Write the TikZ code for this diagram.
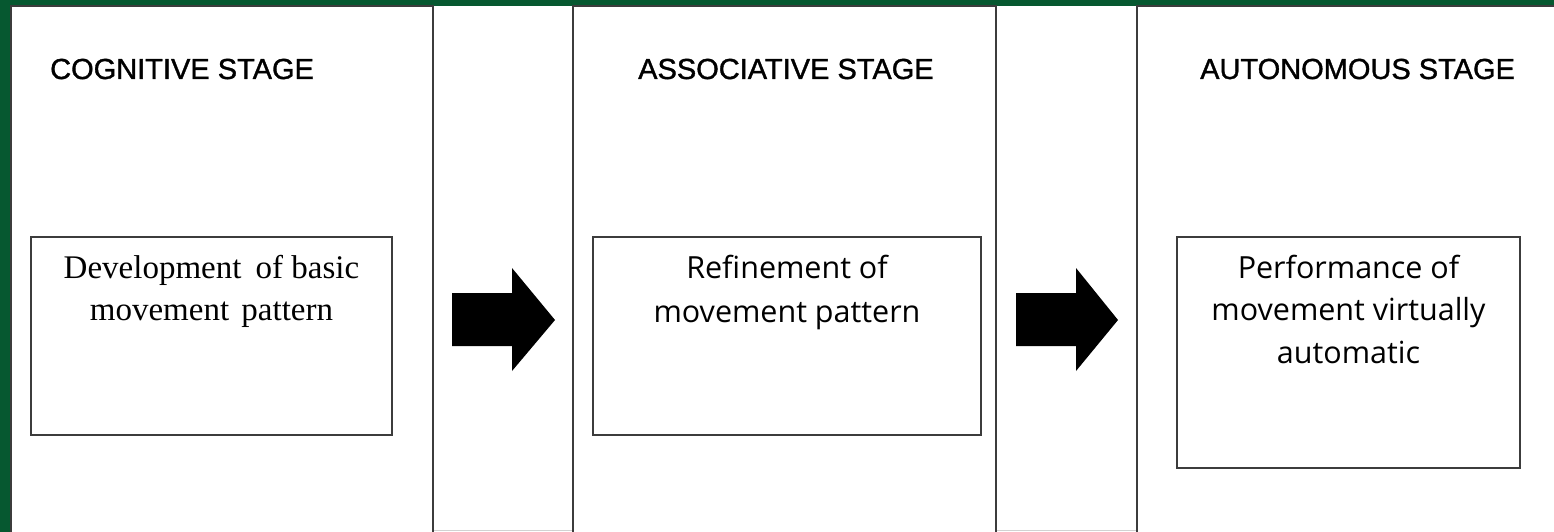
\documentclass[tikz,border=0pt]{standalone}
\usepackage{fontspec}
\setmainfont{Liberation Serif}
\newfontfamily\titlefont[FakeBold=1.2]{Liberation Sans}
\newfontfamily\bodysans{Open Sans}
\definecolor{bggreen}{RGB}{6,88,48}
\definecolor{edgegray}{RGB}{60,60,60}
\definecolor{lightline}{RGB}{210,210,210}
\tikzset{
  panel/.style={draw=edgegray, line width=2.2pt, fill=white},
  innerbox/.style={draw=edgegray, line width=2.2pt, fill=white},
  stagetitle/.style={anchor=base west, inner sep=0pt, font=\titlefont\fontsize{29}{34}\selectfont},
  serifbody/.style={anchor=base, inner sep=0pt, align=center, font=\fontsize{33}{42}\selectfont},
  sansbody/.style={anchor=base, inner sep=0pt, align=center, font=\bodysans\fontsize{30.5}{44}\selectfont},
  sansbodyb/.style={anchor=base, inner sep=0pt, align=center, font=\bodysans\fontsize{30.5}{42.5}\selectfont},
  blockarrow/.style={fill=black}
}
\begin{document}
\begin{tikzpicture}[x=1pt,y=-1pt]
\useasboundingbox (0,0) rectangle (1554,532);
\fill[bggreen] (0,0) rectangle (1554,532);
\fill[white] (11,6) rectangle (1560,540);
\draw[lightline, line width=1.5pt] (11,530.5) -- (1560,530.5);
% panels
\draw[panel] (11,6) rectangle (433,545);
\draw[panel] (573,6) rectangle (996,545);
\draw[panel] (1137,6) rectangle (1570,545);
% titles
\node[stagetitle] (t1) at (50,79) {COGNITIVE STAGE};
\node[stagetitle] (t2) at (638,79) {ASSOCIATIVE STAGE};
\node[stagetitle] (t3) at (1200,79) {AUTONOMOUS STAGE};
% inner boxes
\draw[innerbox] (31,237) rectangle (392,435);
\draw[innerbox] (593,237) rectangle (981,435);
\draw[innerbox] (1177,237) rectangle (1520,468);
\node[serifbody] (b1) at (211.5,320) {Development\hspace{6pt} of basic\\movement\hspace{4pt} pattern};
\node[sansbody] (b2) at (787,322) {Refinement of\\movement pattern};
\node[sansbodyb] (b3) at (1348.5,363) {Performance of\\movement virtually\\automatic};
% block arrows
\fill[blockarrow] (452,293) -- (512,293) -- (512,268) -- (555,320) -- (512,371) -- (512,346) -- (452,346) -- cycle;
\fill[blockarrow] (1016,293) -- (1076,293) -- (1076,268) -- (1118,320) -- (1076,371) -- (1076,346) -- (1016,346) -- cycle;
\end{tikzpicture}
\end{document}
